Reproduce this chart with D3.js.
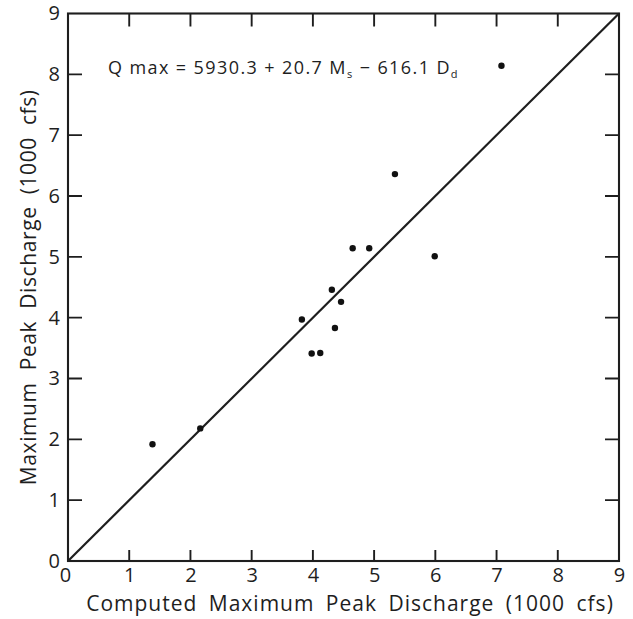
<!DOCTYPE html>
<html>
<head>
<meta charset="utf-8">
<script src="https://cdn.jsdelivr.net/npm/d3@7"></script>
<style>
  html, body { margin: 0; padding: 0; background: #fff; }
  svg text { font-family: "Open Sans", "DejaVu Sans", sans-serif; fill: #1e1e1e; }
</style>
</head>
<body>
<svg id="chart" width="633" height="619"></svg>
<script>
// Computed (x) vs. observed (y) maximum peak discharge, thousands of cfs
const computed = [1.38, 2.16, 3.82, 3.98, 4.12, 4.31, 4.36, 4.46, 4.65, 4.92, 5.34, 5.99, 7.08];
const observed = [1.92, 2.18, 3.97, 3.41, 3.42, 4.46, 3.83, 4.26, 5.14, 5.14, 6.36, 5.01, 8.14];
const tickValues = [0, 1, 2, 3, 4, 5, 6, 7, 8, 9];
const innerTicks = [1, 2, 3, 4, 5, 6, 7, 8];
const xTitle = "Computed Maximum Peak Discharge (1000 cfs)";
const yTitle = "Maximum Peak Discharge (1000 cfs)";

const svg = d3.select("#chart");
const W = 633, H = 619;
const margin = { left: 68, right: 14, top: 13.5, bottom: 58 };
const x = d3.scaleLinear().domain([0, 9]).range([margin.left, W - margin.right]);
const y = d3.scaleLinear().domain([0, 9]).range([H - margin.bottom, margin.top]);

const ink = "#1e1e1e";

// Tick labels (outside the frame)
const xAxis = svg.append("g").attr("transform", `translate(0,${y(0)})`)
  .call(d3.axisBottom(x).tickValues(tickValues).tickSize(0).tickPadding(7));
const yAxis = svg.append("g").attr("transform", `translate(${x(0)},0)`)
  .call(d3.axisLeft(y).tickValues(tickValues).tickSize(0).tickPadding(8));
[xAxis, yAxis].forEach(g => {
  g.select(".domain").remove();
  g.selectAll(".tick line").remove();
  g.selectAll(".tick text").attr("font-size", 20).attr("fill", ink)
    .style("font-family", '"Open Sans", sans-serif');
});
xAxis.selectAll(".tick text").filter(d => d === 0).attr("dx", -3);

// Frame
svg.append("rect")
  .attr("x", x(0)).attr("y", y(9))
  .attr("width", x(9) - x(0)).attr("height", y(0) - y(9))
  .attr("fill", "none").attr("stroke", ink).attr("stroke-width", 2.1);

// 1:1 line
svg.append("line")
  .attr("x1", x(0)).attr("y1", y(0))
  .attr("x2", x(9)).attr("y2", y(9))
  .attr("stroke", ink).attr("stroke-width", 2.2);

// Observations
svg.append("g").selectAll("circle")
  .data(computed.map((c, i) => [c, observed[i]]))
  .join("circle")
  .attr("cx", d => x(d[0]))
  .attr("cy", d => y(d[1]))
  .attr("r", 3.2)
  .attr("fill", "#111");

// Regression equation
const eq = svg.append("text").attr("x", 108).attr("y", 74)
  .attr("font-size", 18).attr("letter-spacing", 1.4);
eq.append("tspan").text("Q max = 5930.3 + 20.7 M");
eq.append("tspan").attr("font-size", 11).attr("dy", 4).text("s");
eq.append("tspan").attr("dy", -4).text(" − 616.1 D");
eq.append("tspan").attr("font-size", 11).attr("dy", 4).text("d");

// Axis titles
svg.append("text")
  .attr("x", 350).attr("y", 611)
  .attr("text-anchor", "middle").attr("font-size", 21)
  .attr("letter-spacing", 1).attr("word-spacing", 5)
  .text(xTitle);

svg.append("text")
  .attr("transform", `translate(36,${(y(0) + y(9)) / 2}) rotate(-90)`)
  .attr("text-anchor", "middle").attr("font-size", 21)
  .attr("letter-spacing", 0.6).attr("word-spacing", 6)
  .text(yTitle);

// Inward tick marks on all four sides, drawn on top
const tp = d3.path();
innerTicks.forEach(v => {
  tp.moveTo(x(v), y(0)); tp.lineTo(x(v), y(0) - 11);
  tp.moveTo(x(v), y(9)); tp.lineTo(x(v), y(9) + 13);
  tp.moveTo(x(0), y(v)); tp.lineTo(x(0) + 14, y(v));
  tp.moveTo(x(9), y(v)); tp.lineTo(x(9) - 14, y(v));
});
svg.append("path")
  .attr("d", tp.toString())
  .attr("fill", "none")
  .attr("stroke", ink)
  .attr("stroke-width", 1.9);
</script>
</body>
</html>
